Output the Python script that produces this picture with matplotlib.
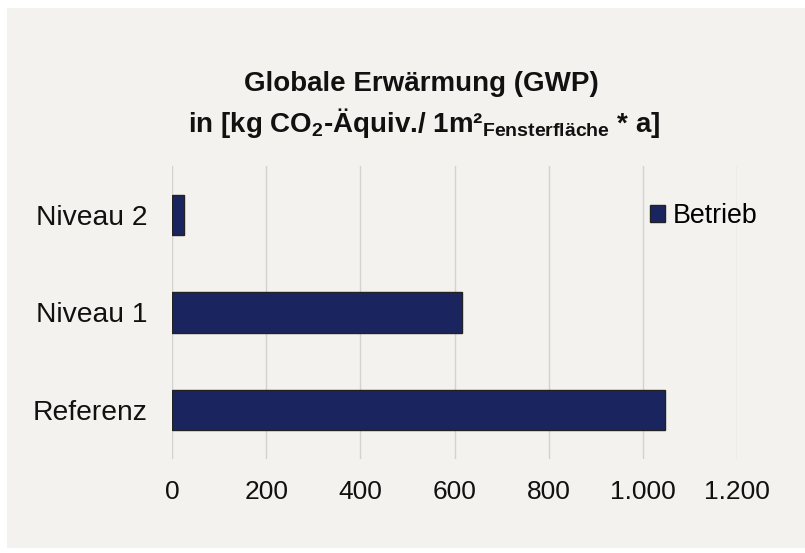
import matplotlib.pyplot as plt
from matplotlib.patches import Rectangle

categories = ['Referenz', 'Niveau 1', 'Niveau 2']
betrieb = [1047, 616, 26]
xticks = [0, 200, 400, 600, 800, 1000, 1200]
xticklabels = ['0', '200', '400', '600', '800', '1.000', '1.200']

plt.rcParams['font.family'] = ['Liberation Sans', 'DejaVu Sans']
plt.rcParams['mathtext.default'] = 'regular'

bg = '#f3f2ee'
bar_color = '#1a2560'

fig = plt.figure(figsize=(8.05, 5.53), dpi=100)
fig.patch.set_facecolor('white')
fig.patches.append(Rectangle((7 / 805, 5 / 553), 798 / 805, 540 / 553,
                             transform=fig.transFigure, facecolor=bg,
                             edgecolor='none', zorder=-5))

ax = fig.add_axes([172 / 805, 1 - 459 / 553, 565 / 805, 293 / 553])
ax.set_facecolor('none')

ypos = range(len(categories))
ax.barh(ypos, betrieb, height=0.41, color=bar_color, edgecolor='#222222',
        linewidth=1, label='Betrieb', zorder=3)

ax.set_xlim(0, 1200)
ax.set_ylim(-0.5, 2.5)
ax.set_xticks(xticks)
ax.set_xticklabels(xticklabels)
ax.set_yticks(list(ypos))
ax.set_yticklabels(categories)
ax.tick_params(axis='x', length=0, pad=15, labelsize=19, labelcolor='#111111')
ax.tick_params(axis='y', length=0, pad=17.5, labelsize=20.3, labelcolor='#111111')
ax.grid(axis='x', color='#d2d2d2', linewidth=1, zorder=0)
for s in ax.spines.values():
    s.set_visible(False)

fig.text(421 / 805, 1 - 84 / 553, 'Globale Erwärmung (GWP)', ha='center',
         va='center', fontsize=20, fontweight='bold', color='#111111')
fig.text(424 / 805, 1 - 123 / 553,
         'in [kg CO$_2$-Äquiv./ 1m²$_{Fensterfläche}$ * a]', ha='center',
         va='center', fontsize=20, fontweight='bold', color='#111111')

fig.legend(loc='center left', bbox_to_anchor=(650 / 805, 1 - 216 / 553),
           frameon=False, fontsize=19.3, handlelength=0.55, handleheight=0.55,
           handletextpad=0.3, borderpad=0, borderaxespad=0)

fig.savefig('out.png', dpi=100, facecolor=fig.get_facecolor())
